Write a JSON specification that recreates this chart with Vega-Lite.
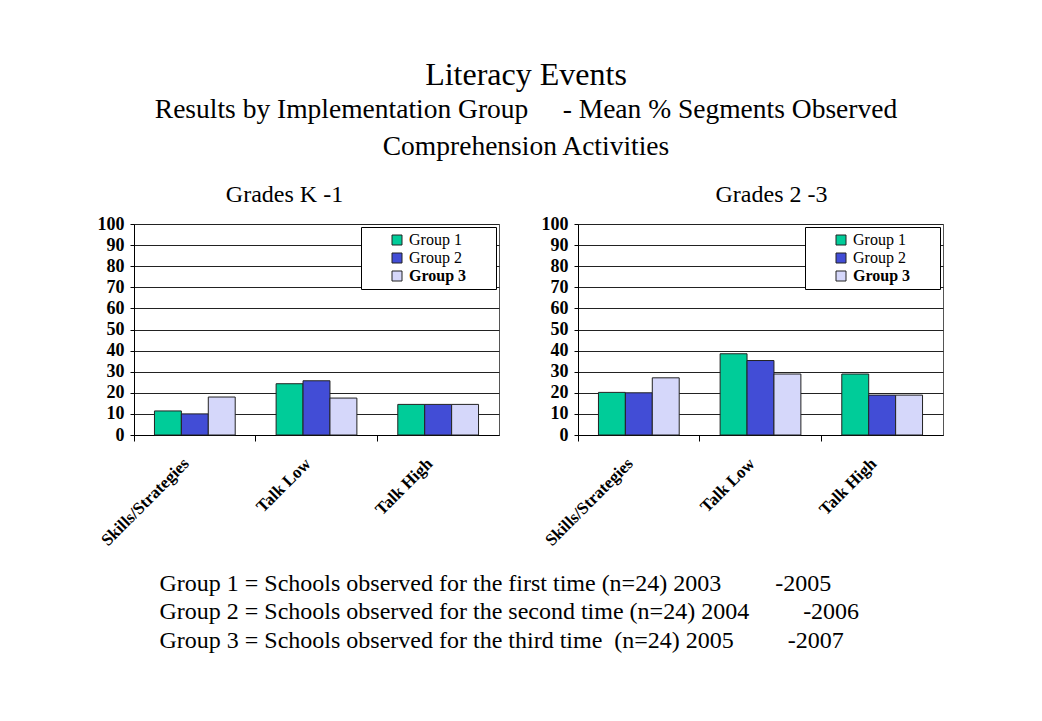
{
  "$schema": "https://vega.github.io/schema/vega-lite/v6.json",
  "background": "white",
  "padding": {"top": 58, "left": 96, "right": 10, "bottom": 10},
  "config": {
    "font": "Liberation Serif",
    "view": {"stroke": "#555555", "strokeWidth": 1},
    "title": {"font": "Liberation Serif", "fontWeight": "normal", "color": "black"},
    "axis": {"labelFont": "Liberation Serif", "labelColor": "black", "domainColor": "black", "tickColor": "black", "titleFont": "Liberation Serif"},
    "legend": {
      "labelFont": "Liberation Serif",
      "labelFontSize": 16,
      "labelColor": "black",
      "symbolType": "square",
      "symbolSize": 100,
      "symbolStrokeColor": "#222222",
      "symbolStrokeWidth": 1,
      "strokeColor": "black",
      "fillColor": "white",
      "padding": 5,
      "rowPadding": 2,
      "symbolOffset": 23
    }
  },
  "title": {
    "text": "Literacy Events",
    "fontSize": 32,
    "anchor": "middle",
    "dx": 6,
    "subtitle": [
      "Results by Implementation Group\u00a0\u00a0\u00a0\u00a0 - Mean % Segments Observed",
      "Comprehension Activities"
    ],
    "subtitleFont": "Liberation Serif",
    "subtitleFontSize": 27.5,
    "subtitleColor": "black",
    "subtitlePadding": 4,
    "subtitleLineHeight": 37.5,
    "offset": 21
  },
  "datasets": {
    "obs": [
      {"grades": "K-1", "activity": "Skills/Strategies", "group": "Group 1", "pct": 11.4},
      {"grades": "K-1", "activity": "Skills/Strategies", "group": "Group 2", "pct": 10},
      {"grades": "K-1", "activity": "Skills/Strategies", "group": "Group 3", "pct": 18},
      {"grades": "K-1", "activity": "Talk Low", "group": "Group 1", "pct": 24.3},
      {"grades": "K-1", "activity": "Talk Low", "group": "Group 2", "pct": 25.7},
      {"grades": "K-1", "activity": "Talk Low", "group": "Group 3", "pct": 17.5},
      {"grades": "K-1", "activity": "Talk High", "group": "Group 1", "pct": 14.5},
      {"grades": "K-1", "activity": "Talk High", "group": "Group 2", "pct": 14.5},
      {"grades": "K-1", "activity": "Talk High", "group": "Group 3", "pct": 14.5},
      {"grades": "2-3", "activity": "Skills/Strategies", "group": "Group 1", "pct": 20.2},
      {"grades": "2-3", "activity": "Skills/Strategies", "group": "Group 2", "pct": 20},
      {"grades": "2-3", "activity": "Skills/Strategies", "group": "Group 3", "pct": 27.1},
      {"grades": "2-3", "activity": "Talk Low", "group": "Group 1", "pct": 38.5},
      {"grades": "2-3", "activity": "Talk Low", "group": "Group 2", "pct": 35.3},
      {"grades": "2-3", "activity": "Talk Low", "group": "Group 3", "pct": 28.9},
      {"grades": "2-3", "activity": "Talk High", "group": "Group 1", "pct": 28.9},
      {"grades": "2-3", "activity": "Talk High", "group": "Group 2", "pct": 18.9},
      {"grades": "2-3", "activity": "Talk High", "group": "Group 3", "pct": 18.9}
    ]
  },
  "vconcat": [
    {
      "spacing": 40,
      "resolve": {"scale": {"color": "independent"}, "legend": {"color": "independent"}},
      "title": {
        "text": [
          "Group 1 = Schools observed for the first time (n=24) 2003\u00a0\u00a0\u00a0\u00a0\u00a0\u00a0\u00a0\u00a0\u00a0-2005",
          "Group 2 = Schools observed for the second time (n=24) 2004\u00a0\u00a0\u00a0\u00a0\u00a0\u00a0\u00a0\u00a0\u00a0-2006",
          "Group 3 = Schools observed for the third time\u00a0 (n=24) 2005\u00a0\u00a0\u00a0\u00a0\u00a0\u00a0\u00a0\u00a0\u00a0-2007"
        ],
        "orient": "bottom",
        "anchor": "start",
        "fontSize": 24,
        "lineHeight": 28.5,
        "dx": 63,
        "offset": 23
      },
      "hconcat": [
        {
          "title": {"text": "Grades K -1", "fontSize": 24, "dx": -32, "offset": 8},
          "width": 365,
          "height": 211,
          "data": {"name": "obs"},
          "transform": [{"filter": "datum.grades == 'K-1'"}],
          "mark": {"type": "bar", "stroke": "#222222", "strokeWidth": 1},
          "encoding": {
            "x": {
              "field": "activity",
              "type": "nominal",
              "sort": ["Skills/Strategies", "Talk Low", "Talk High"],
              "title": null,
              "scale": {"paddingInner": 0, "paddingOuter": 0},
              "axis": {"labelAngle": -45, "labelFontWeight": "bold", "labelFontSize": 17, "bandPosition": 0, "labelOffset": -14, "tickSize": 6, "labelPadding": 14}
            },
            "xOffset": {
              "field": "group",
              "type": "nominal",
              "scale": {"paddingInner": 0, "paddingOuter": 0.76}
            },
            "y": {
              "field": "pct",
              "type": "quantitative",
              "title": null,
              "scale": {"domain": [0, 100], "nice": false},
              "axis": {"values": [0, 10, 20, 30, 40, 50, 60, 70, 80, 90, 100], "labelFontWeight": "bold", "labelFontSize": 18, "tickSize": 4, "labelPadding": 6, "grid": true, "gridColor": "#222222", "gridOpacity": 1}
            },
            "color": {
              "field": "group",
              "type": "nominal",
              "scale": {"domain": ["Group 1", "Group 2", "Group 3"], "range": ["#00CC99", "#424DD6", "#D5D7FA"]},
              "legend": {
                "title": null,
                "orient": "top-right",
                "offset": 3,
                "labelExpr": "datum.label + '\u00a0\u00a0\u00a0\u00a0\u00a0\u00a0\u200b'",
                "labelFontWeight": {"expr": "datum.label == 'Group 3' ? 'bold' : 'normal'"}
              }
            }
          }
        },
        {
          "title": {"text": "Grades 2 -3", "fontSize": 24, "dx": 11, "offset": 8},
          "width": 365,
          "height": 211,
          "data": {"name": "obs"},
          "transform": [{"filter": "datum.grades == '2-3'"}],
          "mark": {"type": "bar", "stroke": "#222222", "strokeWidth": 1},
          "encoding": {
            "x": {
              "field": "activity",
              "type": "nominal",
              "sort": ["Skills/Strategies", "Talk Low", "Talk High"],
              "title": null,
              "scale": {"paddingInner": 0, "paddingOuter": 0},
              "axis": {"labelAngle": -45, "labelFontWeight": "bold", "labelFontSize": 17, "bandPosition": 0, "labelOffset": -14, "tickSize": 6, "labelPadding": 14}
            },
            "xOffset": {
              "field": "group",
              "type": "nominal",
              "scale": {"paddingInner": 0, "paddingOuter": 0.76}
            },
            "y": {
              "field": "pct",
              "type": "quantitative",
              "title": null,
              "scale": {"domain": [0, 100], "nice": false},
              "axis": {"values": [0, 10, 20, 30, 40, 50, 60, 70, 80, 90, 100], "labelFontWeight": "bold", "labelFontSize": 18, "tickSize": 4, "labelPadding": 6, "grid": true, "gridColor": "#222222", "gridOpacity": 1}
            },
            "color": {
              "field": "group",
              "type": "nominal",
              "scale": {"domain": ["Group 1", "Group 2", "Group 3"], "range": ["#00CC99", "#424DD6", "#D5D7FA"]},
              "legend": {
                "title": null,
                "orient": "top-right",
                "offset": 3,
                "labelExpr": "datum.label + '\u00a0\u00a0\u00a0\u00a0\u00a0\u00a0\u200b'",
                "labelFontWeight": {"expr": "datum.label == 'Group 3' ? 'bold' : 'normal'"}
              }
            }
          }
        }
      ]
    }
  ]
}
